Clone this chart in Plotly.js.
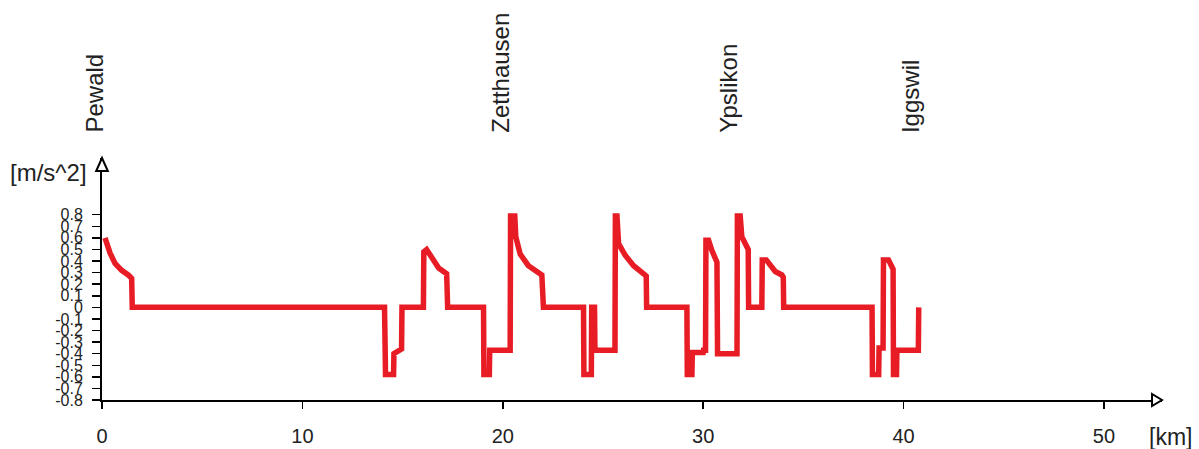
<!DOCTYPE html>
<html>
<head>
<meta charset="utf-8">
<script src="https://cdn.plot.ly/plotly-3.0.1.min.js"></script>
<style>html,body{margin:0;padding:0;background:#fff;}#chart{width:1199px;height:449px;}</style>
</head>
<body>
<div id="chart"></div>
<script>
// distance along the line [km]
const distanceKm = [
  0.15, 0.4, 0.65, 0.98, 1.31, 1.48, 1.51,
  14.1, 14.15, 14.55, 14.57, 14.95, 14.97,
  16.04, 16.06, 16.2, 16.5, 16.8, 17.2, 17.25,
  19.04, 19.06, 19.33, 19.35, 20.37, 20.39, 20.6, 20.65, 20.87, 21.28, 21.95, 22.03,
  24.03, 24.05, 24.42, 24.44, 24.58, 24.6, 25.6, 25.62, 25.7, 25.78, 26.11, 26.53, 27.03, 27.16, 27.18,
  29.19, 29.21, 29.44, 29.46, 30.0, 30.02, 30.12, 30.14, 30.27, 30.44, 30.69, 30.72, 30.74,
  31.69, 31.71, 31.85, 31.93, 32.19, 32.25, 32.27,
  32.93, 32.95, 33.15, 33.6, 33.93, 34.0, 34.02,
  38.43, 38.45, 38.76, 38.78, 38.98, 39.0, 39.25, 39.48, 39.5, 39.65, 39.67, 40.74, 40.76
];
// acceleration [m/s^2]
const accel = [
  0.6, 0.47, 0.38, 0.32, 0.28, 0.25, 0,
  0, -0.58, -0.58, -0.4, -0.36, 0,
  0, 0.48, 0.5, 0.42, 0.34, 0.29, 0,
  0, -0.58, -0.58, -0.37, -0.37, 0.79, 0.79, 0.61, 0.46, 0.36, 0.28, 0,
  0, -0.58, -0.58, 0, 0, -0.37, -0.37, 0.79, 0.79, 0.55, 0.45, 0.36, 0.29, 0.27, 0,
  0, -0.58, -0.58, -0.39, -0.39, -0.37, -0.37, 0.58, 0.58, 0.49, 0.39, -0.4, -0.4,
  -0.4, 0.79, 0.79, 0.61, 0.52, 0.5, 0,
  0, 0.41, 0.41, 0.31, 0.28, 0.26, 0,
  0, -0.58, -0.58, -0.35, -0.35, 0.41, 0.41, 0.33, -0.58, -0.58, -0.37, -0.37, 0
];
// stations
const stationNames = ["Pewald", "Zetthausen", "Ypslikon", "Iggswil"];
const stationKm = [0, 20.2, 31.6, 40.7];
// axis ticks
const xTickVals = [0, 10, 20, 30, 40, 50];
const yTickVals = [0.8, 0.7, 0.6, 0.5, 0.4, 0.3, 0.2, 0.1, 0, -0.1, -0.2, -0.3, -0.4, -0.5, -0.6, -0.7, -0.8];
const yTickText = ["0.8", "0.7", "0.6", "0.5", "0.4", "0.3", "0.2", "0.1", "0", "-0.1", "-0.2", "-0.3", "-0.4", "-0.5", "-0.6", "-0.7", "-0.8"];

const FONT = "Liberation Sans, Arial, sans-serif";

const trace = {
  x: distanceKm,
  y: accel,
  type: "scatter",
  mode: "lines",
  line: {color: "rgb(232,28,36)", width: 5.5},
  hoverinfo: "x+y",
  showlegend: false
};

const annotations = stationNames.map((name, i) => ({
  x: stationKm[i], xref: "x",
  y: 1.095, yref: "paper",
  text: name, showarrow: false,
  textangle: -90, xanchor: "center", yanchor: "bottom",
  xshift: -7,
  font: {family: FONT, size: 24, color: "#222"}
}));
annotations.push({
  x: 0, xref: "paper", y: 0.942, yref: "paper", xshift: -13,
  text: "[m/s^2]", showarrow: false, xanchor: "right", yanchor: "middle",
  font: {family: FONT, size: 24, color: "#222"}
});
annotations.push({
  x: 0.986, xref: "paper", y: -0.152, yref: "paper",
  text: "[km]", showarrow: false, xanchor: "left", yanchor: "middle",
  font: {family: FONT, size: 23, color: "#222"}
});

const layout = {
  width: 1199, height: 449,
  margin: {l: 102, r: 37, t: 158, b: 49},
  paper_bgcolor: "#fff", plot_bgcolor: "#fff",
  xaxis: {
    range: [0, 52.9],
    tickmode: "array", tickvals: xTickVals,
    showgrid: false, zeroline: false,
    showline: true, linecolor: "#000", linewidth: 2,
    ticks: "outside", ticklen: 7, tickwidth: 1.5, tickcolor: "#000",
    tickfont: {family: FONT, size: 20, color: "#222"},
    ticklabelstandoff: 10
  },
  yaxis: {
    range: [-0.8, 1.29],
    tickmode: "array", tickvals: yTickVals, ticktext: yTickText,
    showgrid: false, zeroline: false,
    showline: true, linecolor: "#000", linewidth: 2,
    ticks: "outside", ticklen: 8, tickwidth: 1.5, tickcolor: "#000",
    tickfont: {family: FONT, size: 16, color: "#222"},
    ticklabelstandoff: 6
  },
  annotations: annotations,
  shapes: [
    {type: "path", xref: "paper", yref: "paper",
     path: "M 0 1.0 L -0.0055 0.946 L 0.0055 0.946 Z",
     fillcolor: "#fff", line: {color: "#000", width: 2}},
    {type: "path", xref: "paper", yref: "paper",
     path: "M 1.0 0 L 0.9906 0.025 L 0.9906 -0.025 Z",
     fillcolor: "#fff", line: {color: "#000", width: 2}}
  ]
};

Plotly.newPlot("chart", [trace], layout, {displayModeBar: false, staticPlot: true});
</script>
</body>
</html>
